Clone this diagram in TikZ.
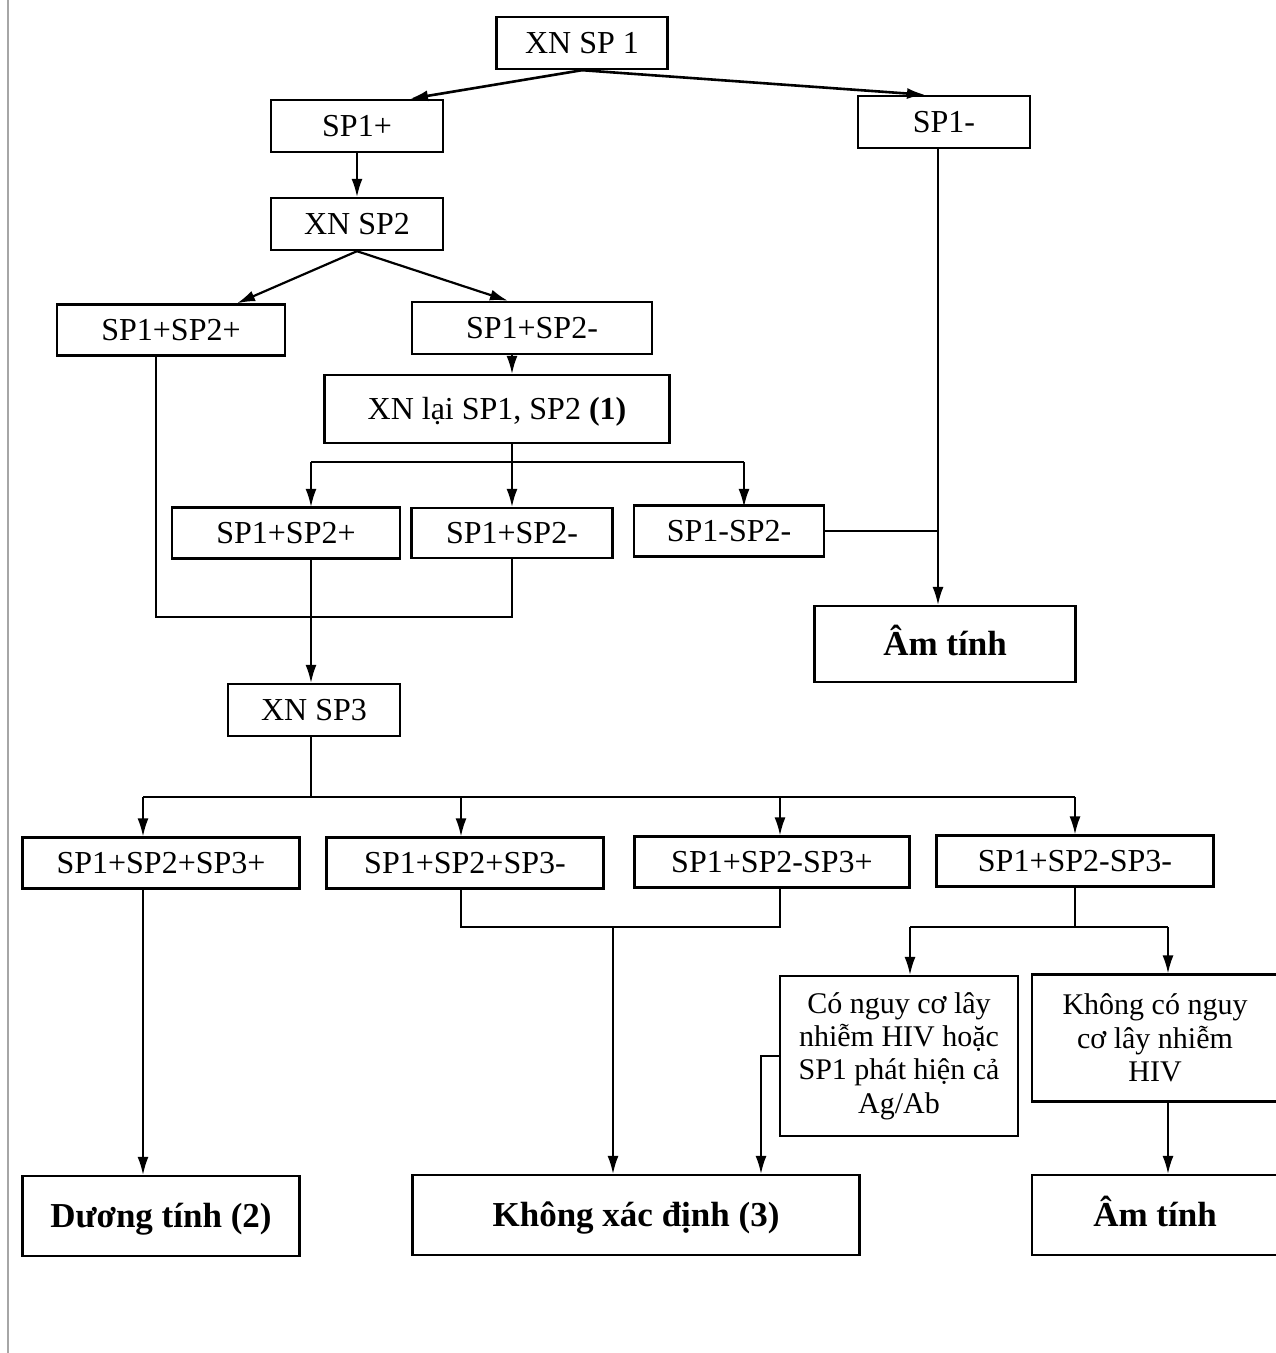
\documentclass[tikz,border=0pt]{standalone}
\usepackage{fontspec}
\setmainfont{Liberation Serif}
\usetikzlibrary{arrows.meta,%
                positioning,%
                calc%
              }
% centre/name/width/height/text, in pixels of the page
\def\testboxes{{(582,43)/t1/171/52/XN SP 1},%
  {(357,126)/p1/172/52/SP1+}, {(944,122)/n1/172/52/SP1-},%
  {(357,224)/t2/172/52/XN SP2},%
  {(171,330)/pp/228/51/SP1+SP2+}, {(532,328)/pn/240/52/SP1+SP2-},%
  {(497,409)/tr/345/68/{XN lại SP1, SP2 \textbf{(1)}}},%
  {(286,533)/rpp/228/51/SP1+SP2+}, {(512,533)/rpn/201/50/SP1+SP2-},%
  {(729,531)/rnn/190/51/SP1-SP2-},%
  {(314,710)/t3/172/52/XN SP3},%
  {(161,863)/ppp/277/51/SP1+SP2+SP3+}, {(465,863)/ppn/277/51/SP1+SP2+SP3-},%
  {(772,862)/pnp/275/51/SP1+SP2-SP3+}, {(1075,861)/pnn/277/51/SP1+SP2-SP3-}%
}
\def\resultboxes{{(945,644)/neg1/261/76/Âm tính},%
  {(161,1216)/pos/277/80/Dương tính (2)},%
  {(636,1215)/ind/447/80/Không xác định (3)},%
  {(1155,1215)/neg2/246/80/Âm tính}%
}

\begin{document}
\begin{tikzpicture}[x=0.5pt,y=-0.5pt,%
    box/.style={rectangle, draw, line width=1.2pt, inner sep=2pt,%
      text height=12pt, text depth=1.4pt,%
      font=\fontsize{16}{17}\selectfont},%
    result/.style={box, text height=13pt, text depth=1.3pt,%
      font=\fontsize{17.5}{19}\selectfont\bfseries},%
    note/.style={rectangle, draw, line width=1.2pt, inner sep=2pt,%
      align=center, font=\fontsize{15}{16.7}\selectfont},%
    arr/.style={-{Latex[length=9pt,width=5.5pt]}, line width=0.8pt},%
    link/.style={line width=0.8pt}]

  \useasboundingbox (0,0) rectangle (1275,1353);
  \draw[gray!70, line width=0.8pt] (8,0) -- (8,1353);% edge of the scan

  \foreach \xy/\bname/\bw/\bh/\btext in \testboxes {%
    \node[box, minimum width=\bw*0.5pt, minimum height=\bh*0.5pt] (\bname) at \xy {\btext};
  }
  \foreach \xy/\bname/\bw/\bh/\btext in \resultboxes {%
    \node[result, minimum width=\bw*0.5pt, minimum height=\bh*0.5pt] (\bname) at \xy {\btext};
  }
  \node[note, minimum width=119pt, minimum height=80pt] (risk) at (899,1056)%
    {Có nguy cơ lây\\nhiễm HIV hoặc\\SP1 phát hiện cả\\Ag/Ab};
  \node[note, minimum width=123pt, minimum height=63.5pt] (norisk) at (1155,1038)%
    {Không có nguy\\cơ lây nhiễm\\HIV};

  % attach points off the box centres
  \coordinate (a1) at ([shift={(53,0)}]p1.north);
  \coordinate (a2) at ([shift={(-19,0)}]n1.north);
  \coordinate (a3) at ([shift={(66,0)}]pp.north);
  \coordinate (a4) at ([shift={(-24,0)}]pn.north);
  \coordinate (b1) at (512,462);
  \coordinate (e1) at ([shift={(25,0)}]rpp.north);
  \coordinate (e3) at ([shift={(15,0)}]rnn.north);
  \coordinate (e4) at ([shift={(-7,0)}]neg1.north);
  \coordinate (l1) at (156,617);
  \coordinate (b2) at (311,797);
  \coordinate (f1) at ([shift={(-18,0)}]ppp.north);
  \coordinate (f2) at ([shift={(-4,0)}]ppn.north);
  \coordinate (f3) at ([shift={(8,0)}]pnp.north);
  \coordinate (f4) at (pnn.north);
  \coordinate (l2) at (613,927);
  \coordinate (b3) at (1075,927);
  \coordinate (g1) at ([shift={(11,0)}]risk.north);
  \coordinate (g2) at ([shift={(13,0)}]norisk.north);
  \coordinate (h1) at ([shift={(125,0)}]ind.north);

  % first and second test
  \draw[arr, line width=1.3pt] (t1.south) -- (a1);
  \draw[arr, line width=1.3pt] (t1.south) -- (a2);
  \draw[arr] (p1.south) -- (t2.north);
  \draw[arr, line width=1.1pt] (t2.south) -- (a3);
  \draw[arr, line width=1.1pt] (t2.south) -- (a4);
  \draw[arr] (pn.south -| b1) -- (tr.north -| b1);

  % repeat of SP1, SP2
  \draw[link] (tr.south -| b1) -- (b1);
  \draw[link] (e1 |- b1) -- (e3 |- b1);
  \foreach \e in {e1,b1,e3} {%
    \draw[arr] (\e |- b1) -- (\e |- rpn.north);
  }
  \draw[arr] (n1.south -| e4) -- (e4);
  \draw[link] (rnn.east) -- (rnn.east -| e4);
  \draw[link] (l1 |- pp.south) -- (l1) -- (rpn.south |- l1) -- (rpn.south);
  \draw[arr] (e1 |- rpp.south) -- (e1 |- t3.north);

  % third test
  \draw[link] (t3.south -| b2) -- (b2);
  \draw[link] (f1 |- b2) -- (f4 |- b2);
  \foreach \f in {f1,f2,f3,f4} {%
    \draw[arr] (\f |- b2) -- (\f);
  }
  \draw[arr] (f1 |- ppp.south) -- (f1 |- pos.north);
  \draw[link] (f2 |- ppn.south) -- (f2 |- l2) -- (f3 |- l2) -- (f3 |- pnp.south);
  \draw[arr] (l2) -- (l2 |- ind.north);
  \draw[link] (pnn.south) -- (b3);
  \draw[link] (g1 |- b3) -- (g2 |- b3);
  \foreach \g in {g1,g2} {%
    \draw[arr] (\g |- b3) -- (\g);
  }
  \draw[arr] (risk.west) -- (risk.west -| h1) -- (h1);
  \draw[arr] (g2 |- norisk.south) -- (g2 |- neg2.north);

\end{tikzpicture}
\end{document}
